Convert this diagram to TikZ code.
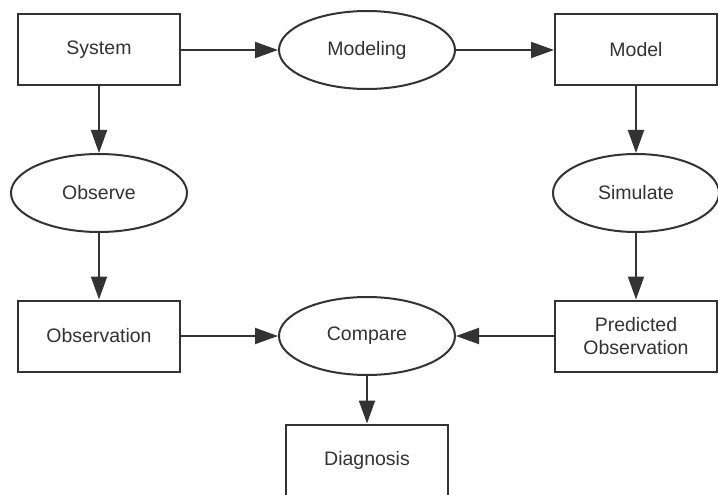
\documentclass[tikz,border=0pt]{standalone}
\usepackage{fontspec}
\setmainfont{Liberation Sans}
\usepackage{tikz}
\usetikzlibrary{shapes.geometric, arrows.meta}
\definecolor{ink}{HTML}{333333}
\tikzstyle{process} = [rectangle, minimum width=162pt, minimum height=71pt, text centered, align=center, draw=ink, line width=2pt, text=ink, font=\fontsize{19.5}{23}\selectfont]
\tikzstyle{action} = [ellipse, minimum width=176pt, minimum height=78pt, text centered, draw=ink, line width=2pt, text=ink, font=\fontsize{19.5}{23}\selectfont]
\tikzstyle{arrow} = [draw=ink, line width=2pt, ->, >={Triangle[length=23pt, width=16pt]}]

\begin{document}
\begin{tikzpicture}[node distance=143pt]
\useasboundingbox (-99pt,50pt) rectangle (619pt,-445pt);
\node (system) [process] {System};
\node (modeling) [action, right of = system, xshift=125pt] {Modeling};
\node (model) [process, right of = modeling, xshift=126pt] {Model};
\node (observe) [action, below of = system] {Observe};
\node (simulate) [action, below of = model, minimum width=166pt] {Simulate};
\node (observation) [process, below of = observe] {Observation};
\node (compare) [action, right of = observation, xshift=125pt] {Compare};
\node (predicted) [process, below of = simulate] {Predicted\\Observation};
\node (diagnosis) [process, below of = compare, yshift=19pt] {Diagnosis};
\draw [arrow] (system) -- (modeling);
\draw [arrow] (modeling) -- (model);
\draw [arrow] (system) -- (observe);
\draw [arrow] (observe) -- (observation);
\draw [arrow] (model) -- (simulate);
\draw [arrow] (simulate) -- (predicted);
\draw [arrow] (observation) -- (compare);
\draw [arrow] (predicted) -- (compare);
\draw [arrow] (compare) -- (diagnosis);
\end{tikzpicture}
\end{document}
